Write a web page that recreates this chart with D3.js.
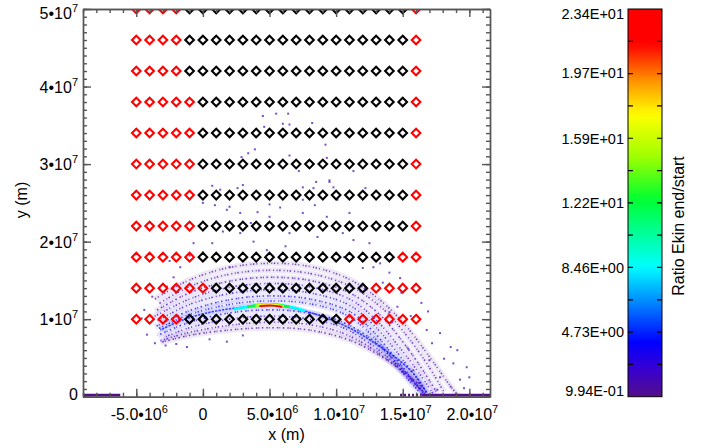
<!DOCTYPE html>
<html>
<head>
<meta charset="utf-8">
<script src="https://cdn.jsdelivr.net/npm/d3@7"></script>
<style>
body { margin: 0; background: #fff; }
text { font-family: "Liberation Sans", Arial, sans-serif; fill: #000; }
</style>
</head>
<body>
<svg width="704" height="448"></svg>
<script>
// axis ticks
var xTicks = [-5e6, 0, 5e6, 1e7, 1.5e7, 2e7];
var xTickLabels = [["-5.0\u202210", "6"], ["0", ""], ["5.0\u202210", "6"], ["1.0\u202210", "7"], ["1.5\u202210", "7"], ["2.0\u202210", "7"]];
var yTicks = [0, 1e7, 2e7, 3e7, 4e7, 5e7];
var yTickLabels = [["0", ""], ["1\u202210", "7"], ["2\u202210", "7"], ["3\u202210", "7"], ["4\u202210", "7"], ["5\u202210", "7"]];

// start grid (diamonds), R = red, K = black
var markerX = [-5e6, -4e6, -3e6, -2e6, -1e6, 0, 1e6, 2e6, 3e6, 4e6, 5e6, 6e6, 7e6, 8e6, 9e6, 1e7, 1.1e7, 1.2e7, 1.3e7, 1.4e7, 1.5e7, 1.6e7];
var markerY = [1.0e7, 1.4e7, 1.8e7, 2.2e7, 2.6e7, 3.0e7, 3.4e7, 3.8e7, 4.2e7, 4.6e7, 5.0e7];
var markerColor = [
	"RRRRKKKKKKKKKKKKRRRRRR",
	"RRRRRRKKKKKKKKKKKKRRRR",
	"RRRRRKKKKKKKKKKKKKKKRR",
	"RRRRRKKKKKKKKKKKKKKKKR",
	"RRRRRKKKKKKKKKKKKKKKKR",
	"RRRRRKKKKKKKKKKKKKKKKR",
	"RRRRRKKKKKKKKKKKKKKKKR",
	"RRRRRKKKKKKKKKKKKKKKKR",
	"RRRRKKKKKKKKKKKKKKKKKR",
	"RRRRKKKKKKKKKKKKKKKKKR",
	"RRRRKKKKKKKKKKKKKKKKKR"
];

// colour bar
var barMin = 0.994, barMax = 23.4;
var barTicks = [0.994, 4.73, 8.46, 12.2, 15.9, 19.7, 23.4];
var barTickLabels = ["9.94E-01", "4.73E+00", "8.46E+00", "1.22E+01", "1.59E+01", "1.97E+01", "2.34E+01"];

// particle tracks, points in units of 1e6 m, one ratio per track
var trackRatio = [1.5, 1.8, 2.2, 2.6, 3.0, 3.4, 3.8, 4.4, 3.6, 3.0, 2.2, 1.6];
var trackPoints = [
	[[-3.6,12.6],[-1.2,14.9],[1.8,16.6],[5,17.2],[8,16.8],[10.8,15.3],[13.2,12.6],[15.2,9.2],[16.9,5.4],[18.4,1.8],[19.2,0]],
	[[-3.3,12.0],[-1,14.2],[2,15.8],[5,16.3],[8,15.9],[11,14.3],[13.4,11.5],[15.2,8.1],[16.8,4.3],[18.1,0.6]],
	[[-3.6,11.0],[-1,13.4],[2,14.9],[5,15.4],[8,15.0],[11,13.4],[13.2,10.7],[14.9,7.3],[16.4,3.7],[17.6,0.4]],
	[[-3.8,10.2],[-1,12.6],[2,14.1],[5,14.6],[8,14.2],[11,12.6],[13,9.9],[14.7,6.5],[16.2,3.1],[17.3,0.3]],
	[[-3.4,9.8],[-1,11.9],[2,13.3],[5,13.8],[8,13.4],[11,11.8],[12.9,9.1],[14.5,5.9],[15.9,2.7],[16.9,0.3]],
	[[-3.6,9.0],[-1,11.1],[2,12.5],[5,13.0],[8,12.6],[11,11.0],[12.8,8.4],[14.3,5.3],[15.7,2.3],[16.7,0.2]],
	[[-3.3,8.8],[-1,10.6],[2,11.9],[5,12.35],[8,12.0],[10.8,10.5],[12.7,7.9],[14.2,4.9],[15.5,2.0],[16.5,0.2]],
	[[-3.2,8.6],[-1.5,9.9],[0.3,10.8],[2.3,11.4],[5,11.8],[7.3,11.2],[9.5,10.0],[11.3,8.6],[13,6.8],[14.8,4.6],[16,2.6],[16.8,0.5]],
	[[-3.4,7.9],[-1,9.6],[2,10.8],[5,11.2],[8,10.8],[10.5,9.6],[12.5,7.6],[14.2,5.0],[15.7,2.2],[16.5,0.5]],
	[[-3.0,7.6],[-1,8.9],[2,10.0],[5,10.4],[8,10.0],[10.5,8.9],[12.5,6.9],[14.4,4.3],[15.9,1.8],[16.6,0.5]],
	[[-3.2,7.2],[-1,8.3],[2,9.2],[5,9.6],[8,9.3],[10.5,8.2],[12.5,6.4],[14.5,3.9],[16.1,1.3],[16.8,0.3]],
	[[-3.2,7.0],[-1,7.9],[2,8.6],[5,8.9],[8,8.6],[11,7.3],[13,5.6],[15,3.3],[16.6,1.0]]
];

// hot spot at the top of the brightest track
var hotRatio = [8.5, 12.5, 17, 22];
var hotPoints = [
	[[2.4,11.3],[3.6,11.65],[5,11.85],[6.4,11.65],[7.6,11.1]],
	[[3.4,11.6],[4.4,11.85],[5.4,11.9],[6.4,11.6]],
	[[4.0,11.75],[5,11.9],[6.0,11.7]],
	[[4.3,11.7],[5.2,11.75],[5.9,11.6]]
];

// loose particles (1e6 m)
var looseDots = [
	[4.5,36.2],[5.5,36.5],[6.4,36.5],[6.0,35.2],[6.5,35.1],[8.2,35.3],[4.6,34.8],[3.9,31.9],[3.4,31.4],[2.9,30.9],
	[9.2,32.5],[6.5,31.1],[9.3,30.8],[11.3,29.1],[7.2,29.1],[8.5,27.7],[9.5,27.9],[7.5,27.0],[9.8,27.0],[12.2,26.9],
	[0.7,27.2],[2.6,26.9],[3.0,27.3],[1.3,26.0],[0.0,25.0],[5.0,24.8],[5.8,24.4],[8.4,24.7],[11.8,25.8],[2.0,24.5],
	[1.3,26.7],[0.9,24.7],[1.8,24.1],[2.8,23.7],[4.1,23.8],[5.0,23.2],[1.5,21.3],[0.7,19.8],[0.0,18.6],[-0.7,19.8],
	[2.8,21.1],[3.8,20.0],[4.8,18.9],[-1.7,16.7],[2.0,16.7],[-2.2,15.4],[-2.7,14.2],[-3.2,13.8],[9.5,27.7],[8.3,26.9],
	[7.5,25.4],[10.1,25.4],[11.0,23.7],[7.5,23.7],[9.3,23.2],[6.5,21.1],[8.6,20.6],[10.5,21.1],[11.3,20.2],[12.5,19.8],
	[12.8,16.7],[13.3,17.2],[14.0,16.0],[14.8,15.3],[13.5,14.7],[14.9,13.4],[14.6,11.6],[14.0,10.9],[16.4,12.1],[16.8,8.6],
	[17.8,8.2],[18.6,6.4],[19.1,6.0],[18.8,4.3],[19.8,3.8],[19.3,2.2],[18.6,1.3],[20.0,2.5],[17.8,2.5],[17.0,4.7],
	[15.8,3.4],[16.2,1.8],[17.6,0.9],[-4.0,9.5],[-4.4,11.2],[-2.0,6.8],[0.5,7.4],[3.0,7.9],[-3.8,12.9],[-2.8,6.6],
	[-2.5,17.5],[-1.0,18.2],[1.0,22.6],[3.6,22.4],[6.2,19.4],[9.0,18.6],[10.6,18.0],[12.0,16.6],[15.6,10.4],[17.2,6.9],
	[-4.6,10.1],[-4.2,8.0],[-3.6,6.9],[-1.2,6.4],[1.8,7.1],[14.2,9.6],[15.4,6.2],[18.1,4.9],[19.6,1.1],[16.9,11.0]
];

// particles lying on the ground (x ranges, 1e6 m)
var groundSolid = [[-9, -6.2], [16.4, 21.6]];
var groundSparse = [[14.8, 16.4]];

var MEGA = 1e6;
var svg = d3.select("svg");

var padL = 83, padR = 490, padT = 9, padB = 396.7;

var x = d3.scaleLinear().domain([-9e6, 2.155e7]).range([padL, padR]);
var y = d3.scaleLinear().domain([0, 5e7]).range([padB, padT]);

var ratioColor = d3.scaleLinear()
	.domain([0, 0.07, 0.14, 0.335, 0.51, 0.62, 0.727, 0.81, 0.91, 1])
	.range(["#52108a", "#3a00d0", "#0000ff", "#00ffff", "#00ff30", "#a0ff00", "#ffff00", "#ff9900", "#ff0000", "#ff0000"]);
var colorOf = function(r) {
	return ratioColor((r - barMin) / (barMax - barMin));
};

var defs = svg.append("defs");
defs.append("clipPath").attr("id", "plotclip")
	.append("rect").attr("x", padL).attr("y", padT).attr("width", padR - padL).attr("height", padB - padT);

var plot = svg.append("g").attr("clip-path", "url(#plotclip)");

var line = d3.line()
	.x(function(d) { return x(d[0] * MEGA); })
	.y(function(d) { return y(d[1] * MEGA); })
	.curve(d3.curveCatmullRom);

// haze under the tracks
plot.selectAll(".haze")
	.data(trackPoints)
	.enter()
	.append("path")
	.attr("class", "haze")
	.attr("d", line)
	.style("fill", "none")
	.style("stroke", function(d, i) { return colorOf(trackRatio[i]); })
	.style("stroke-width", 6)
	.style("stroke-opacity", 0.09);

// dotted tracks, irregular dash so they read as particles
var dashes = ["1.5,2,1,3.5,1,1.5", "1,1.5,1.5,3,1,2.5", "1.5,1,1,2.5,1.5,3"];
plot.selectAll(".track")
	.data(trackPoints)
	.enter()
	.append("path")
	.attr("class", "track")
	.attr("d", line)
	.style("fill", "none")
	.style("stroke", function(d, i) { return colorOf(trackRatio[i]); })
	.style("stroke-width", 1.6)
	.style("stroke-dasharray", function(d, i) { return i == 7 ? "2.5,1" : dashes[i % 3]; })
	.style("stroke-dashoffset", function(d, i) { return i * 1.7; })
	.style("stroke-opacity", 0.75);

plot.selectAll(".hot")
	.data(hotPoints)
	.enter()
	.append("path")
	.attr("class", "hot")
	.attr("d", line)
	.style("fill", "none")
	.style("stroke", function(d, i) { return colorOf(hotRatio[i]); })
	.style("stroke-width", function(d, i) { return 2.8 - i * 0.3; })
	.style("stroke-linecap", "round");

plot.selectAll(".dot")
	.data(looseDots)
	.enter()
	.append("rect")
	.attr("class", "dot")
	.attr("x", function(d) { return x(d[0] * MEGA) - 1; })
	.attr("y", function(d) { return y(d[1] * MEGA) - 1; })
	.attr("width", 2)
	.attr("height", 2)
	.style("fill", colorOf(2.0))
	.style("opacity", 0.7);

plot.selectAll(".ground")
	.data(groundSolid)
	.enter()
	.append("line")
	.attr("x1", function(d) { return x(d[0] * MEGA); })
	.attr("x2", function(d) { return x(d[1] * MEGA); })
	.attr("y1", y(0) - 1.5)
	.attr("y2", y(0) - 1.5)
	.style("stroke", colorOf(1.0))
	.style("stroke-width", 3);

plot.selectAll(".groundsparse")
	.data(groundSparse)
	.enter()
	.append("line")
	.attr("x1", function(d) { return x(d[0] * MEGA); })
	.attr("x2", function(d) { return x(d[1] * MEGA); })
	.attr("y1", y(0) - 1.5)
	.attr("y2", y(0) - 1.5)
	.style("stroke", colorOf(1.0))
	.style("stroke-width", 3)
	.style("stroke-dasharray", "2,2");

// diamonds
var markers = [];
markerY.forEach(function(my, r) {
	markerX.forEach(function(mx, c) {
		markers.push({x: mx, y: my, red: markerColor[r].charAt(c) == "R"});
	});
});

var diamond = "M0,-4.3L4.3,0L0,4.3L-4.3,0Z";
plot.selectAll(".marker")
	.data(markers)
	.enter()
	.append("path")
	.attr("class", "marker")
	.attr("d", diamond)
	.attr("transform", function(d) { return "translate(" + x(d.x) + "," + y(d.y) + ")"; })
	.style("fill", "none")
	.style("stroke", function(d) { return d.red ? "#ff0000" : "#000000"; })
	.style("stroke-width", 2.1);

// axes box with inward ticks on all sides
var xMinor = d3.range(-9, 22).map(function(v) { return v * MEGA; });
var yMinor = d3.range(0, 51).map(function(v) { return v * MEGA; });
var axisColor = "#555";

var drawAxis = function(axis, tx, ty) {
	var g = svg.append("g").attr("transform", "translate(" + tx + "," + ty + ")").call(axis);
	g.selectAll("path, line").style("stroke", axisColor).style("stroke-width", 1.4);
	g.selectAll("text").remove();
	return g;
};

drawAxis(d3.axisBottom(x).tickValues(xMinor).tickSize(-4).tickSizeOuter(0), 0, padB);
drawAxis(d3.axisBottom(x).tickValues(xTicks).tickSize(-8).tickSizeOuter(0), 0, padB);
drawAxis(d3.axisTop(x).tickValues(xMinor).tickSize(-4).tickSizeOuter(0), 0, padT);
drawAxis(d3.axisTop(x).tickValues(xTicks).tickSize(-8).tickSizeOuter(0), 0, padT);
drawAxis(d3.axisLeft(y).tickValues(yMinor).tickSize(-4).tickSizeOuter(0), padL, 0);
drawAxis(d3.axisLeft(y).tickValues(yTicks).tickSize(-8).tickSizeOuter(0), padL, 0);
drawAxis(d3.axisRight(y).tickValues(yMinor).tickSize(-4).tickSizeOuter(0), padR, 0);
drawAxis(d3.axisRight(y).tickValues(yTicks).tickSize(-8).tickSizeOuter(0), padR, 0);

// tick labels with superscript exponent
var addPowerLabel = function(sel, parts) {
	sel.append("tspan").text(parts[0]);
	if (parts[1] != "") {
		sel.append("tspan").attr("dy", -7).style("font-size", "11px").text(parts[1]);
	}
};

xTicks.forEach(function(v, i) {
	var t = svg.append("text")
		.attr("x", x(v) + (xTickLabels[i][1] != "" ? 3 : 0))
		.attr("y", 420)
		.attr("text-anchor", "middle")
		.style("font-size", "16px");
	addPowerLabel(t, xTickLabels[i]);
});

yTicks.forEach(function(v, i) {
	var t = svg.append("text")
		.attr("x", 78)
		.attr("y", y(v) + (i == 0 ? 3 : (i == yTicks.length - 1 ? 10 : 6)))
		.attr("text-anchor", "end")
		.style("font-size", "16px");
	addPowerLabel(t, yTickLabels[i]);
});

svg.append("text")
	.attr("x", (padL + padR) / 2)
	.attr("y", 440)
	.attr("text-anchor", "middle")
	.style("font-size", "16px")
	.text("x (m)");

svg.append("text")
	.attr("transform", "translate(27,200) rotate(-90)")
	.attr("text-anchor", "middle")
	.style("font-size", "16px")
	.text("y (m)");

// colour bar
var barX = 628, barW = 34;
var cy = d3.scaleLinear().domain([barMin, barMax]).range([padB, padT]);

var grad = defs.append("linearGradient")
	.attr("id", "bargrad")
	.attr("x1", 0).attr("y1", 1).attr("x2", 0).attr("y2", 0);
d3.range(0, 1.0001, 0.02).forEach(function(t) {
	grad.append("stop").attr("offset", t).attr("stop-color", ratioColor(t));
});

svg.append("rect")
	.attr("x", barX).attr("y", padT)
	.attr("width", barW).attr("height", padB - padT)
	.style("fill", "url(#bargrad)")
	.style("stroke", "#000")
	.style("stroke-width", 1);

var barStep = (barMax - barMin) / 12;
var barTickAll = d3.range(1, 12).map(function(k) { return barMin + k * barStep; });
svg.selectAll(".bartick")
	.data(barTickAll)
	.enter()
	.append("path")
	.attr("d", function(d) {
		var yy = cy(d);
		return "M" + barX + "," + yy + "h5M" + (barX + barW) + "," + yy + "h-5";
	})
	.style("stroke", "#000")
	.style("stroke-width", 1.2);

barTicks.forEach(function(v, i) {
	var yy = cy(v);
	var off = i == 0 ? -1 : (i == barTicks.length - 1 ? 10 : 5);
	svg.append("text")
		.attr("x", 624)
		.attr("y", yy + off)
		.attr("text-anchor", "end")
		.style("font-size", "14.5px")
		.text(barTickLabels[i]);
});

svg.append("text")
	.attr("transform", "translate(684,226) rotate(-90)")
	.attr("text-anchor", "middle")
	.style("font-size", "16px")
	.text("Ratio Ekin end/start");
</script>
</body>
</html>
